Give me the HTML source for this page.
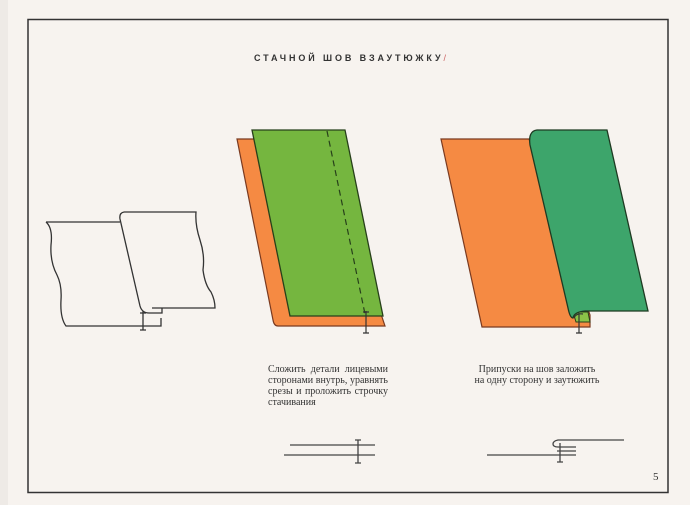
<!DOCTYPE html>
<html><head><meta charset="utf-8"><style>
body{margin:0;width:690px;height:505px;background:#f7f3ef;overflow:hidden;position:relative;font-family:"Liberation Serif",serif}
.t{position:absolute;font-size:10px;color:#333;line-height:11px}
</style></head><body>
<svg width="690" height="505" style="position:absolute;left:0;top:0">
<rect x="0" y="0" width="8" height="505" fill="#eeeae6"/>
<rect x="28" y="19.5" width="640" height="473" fill="none" stroke="#333" stroke-width="1.5"/>
<!-- left sketch -->
<g fill="none" stroke="#333" stroke-width="1.3">
<path d="M46,222 L120,222"/>
<path d="M46,222 Q53,228 51,245 Q50,262 57,275 Q62,285 61,300 Q60,318 66,326 L161,326 L161,318"/>
<path d="M124,212 L196,212 Q195,225 200,240 Q205,255 203,270 Q205,285 211,292 Q215,300 215,308 L152,308"/>
<path d="M124,212 Q119,213 120,219 L140,306 Q142,313 149,313 L162,313 L162,308"/>
<path d="M143,311 L143,330 M140,313 L146,313 M140,330 L146,330"/>
</g>
<!-- middle -->
<path d="M237,139 L256,139 L381,314 L385,326 L278,326 Q274,326 273,320 Z" fill="#f58a43" stroke="#7a3a20" stroke-width="1.2"/>
<path d="M252,130 L345,130 L383,316 L290,316 Z" fill="#75b63f" stroke="#27401a" stroke-width="1.3"/>
<path d="M327,131 L365,314" stroke="#27401a" stroke-width="1.2" stroke-dasharray="6,4"/>
<path d="M366,311 L366,333 M363,312 L369,312 M363,333 L369,333" stroke="#333" stroke-width="1.2"/>
<!-- right -->
<path d="M441,139 L529,139 L590,315 L590,327 L482,327 Z" fill="#f58a43" stroke="#7a3a20" stroke-width="1.2"/>
<path d="M573,312 L588,312 L590,322 L576,322 Z" fill="#8ac348" stroke="#27401a" stroke-width="1"/>
<path d="M537,130 L607,130 L648,311 L585,311 Q574,312 573,318 Q570,318 568,308 L530,145 Q528,131 537,130 Z" fill="#3da56b" stroke="#1e3a22" stroke-width="1.3"/>
<path d="M574,318 Q576,313 583,314 M579,313 L579,333 M576,333 L582,333" fill="none" stroke="#333" stroke-width="1.2"/>
<!-- bottom diagrams -->
<g stroke="#444" stroke-width="1.3" fill="none">
<path d="M290,445 L375,445 M284,455 L375,455 M358,440 L358,463 M355,440 L361,440 M355,463 L361,463"/>
<path d="M624,440 L558,440 Q553,441 553,444 Q553,447 558,447 L576,447 M487,455 L576,455 M560,443 L560,462 M557,462 L563,462 M557,451 L576,451"/>
</g>
</svg>
<div style="position:absolute;left:254px;top:53px;font-family:'Liberation Sans',sans-serif;font-weight:bold;font-size:9px;letter-spacing:2.9px;color:#333">СТАЧНОЙ ШОВ ВЗАУТЮЖКУ<span style="color:#c66;font-weight:normal">/</span></div>
<div class="t" style="left:268px;top:364px;width:120px;text-align:justify">Сложить детали лицевыми сторонами внутрь, уравнять срезы и проложить строчку стачивания</div>
<div class="t" style="left:462px;top:364px;width:150px;text-align:center">Припуски на шов заложить<br>на одну сторону и заутюжить</div>
<div class="t" style="left:653px;top:472px;font-size:11px">5</div>
</body></html>
